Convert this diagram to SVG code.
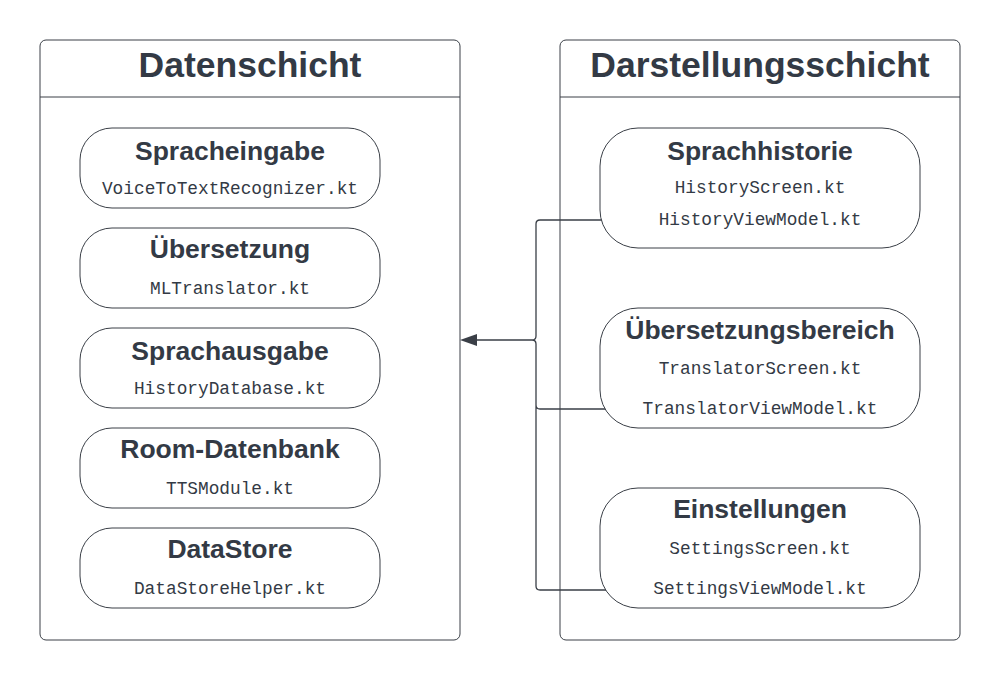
<svg xmlns="http://www.w3.org/2000/svg" width="1000" height="680" viewBox="0 0 1000 680">
<style>
.cont{fill:#fff;stroke:#3a3f47;stroke-width:1}
.node{fill:#fff;stroke:#3a3f47;stroke-width:1}
.h1{font-family:"Liberation Sans",Arial,sans-serif;font-weight:bold;font-size:35.5px;fill:#333a45;text-anchor:middle}
.h2{font-family:"Liberation Sans",Arial,sans-serif;font-weight:bold;font-size:26.5px;fill:#333a45;text-anchor:middle}
.mono{font-family:"Liberation Mono","Courier New",monospace;font-size:17.8px;fill:#333a45;text-anchor:middle}
.conn{fill:none;stroke:#3a3f47;stroke-width:1.3}
</style>
<rect width="1000" height="680" fill="#fff"/>
<g id="datenschicht">
<rect class="cont" x="40" y="40" width="420" height="600" rx="6"/>
<line class="cont" x1="40" y1="97" x2="460" y2="97"/>
<text class="h1" x="250" y="77">Datenschicht</text>
</g>
<g id="darstellungsschicht">
<rect class="cont" x="560" y="40" width="400" height="600" rx="6"/>
<line class="cont" x1="560" y1="97" x2="960" y2="97"/>
<text class="h1" x="760" y="77">Darstellungsschicht</text>
</g>
<g id="connectors">
<path class="conn" d="M610,220 L540,220 Q536,220 536,224 L536,336 Q536,340 532,340 M610,409 L540,409 Q536,409 536,405 L536,344 Q536,340 532,340 M610,590 L540,590 Q536,590 536,586 L536,405 M532,340 L476,340"/>
<path d="M460,340 L477,334 L477,346 Z" fill="#3a3f47"/>
</g>
<g id="spracheingabe">
<rect class="node" x="80" y="128" width="300" height="80" rx="32"/>
<text class="h2" x="230" y="160">Spracheingabe</text>
<text class="mono" x="230" y="194">VoiceToTextRecognizer.kt</text>
</g>
<g id="uebersetzung">
<rect class="node" x="80" y="228" width="300" height="80" rx="32"/>
<text class="h2" x="230" y="258">Übersetzung</text>
<text class="mono" x="230" y="294">MLTranslator.kt</text>
</g>
<g id="sprachausgabe">
<rect class="node" x="80" y="328" width="300" height="80" rx="32"/>
<text class="h2" x="230" y="360">Sprachausgabe</text>
<text class="mono" x="230" y="394">HistoryDatabase.kt</text>
</g>
<g id="room">
<rect class="node" x="80" y="428" width="300" height="80" rx="32"/>
<text class="h2" x="230" y="458">Room-Datenbank</text>
<text class="mono" x="230" y="494">TTSModule.kt</text>
</g>
<g id="datastore">
<rect class="node" x="80" y="528" width="300" height="80" rx="32"/>
<text class="h2" x="230" y="558">DataStore</text>
<text class="mono" x="230" y="594">DataStoreHelper.kt</text>
</g>
<g id="sprachhistorie">
<rect class="node" x="600" y="128" width="320" height="120" rx="38"/>
<text class="h2" x="760" y="160">Sprachhistorie</text>
<text class="mono" x="760" y="193">HistoryScreen.kt</text>
<text class="mono" x="760" y="225">HistoryViewModel.kt</text>
</g>
<g id="uebersetzungsbereich">
<rect class="node" x="600" y="308" width="320" height="120" rx="38"/>
<text class="h2" x="760" y="339">Übersetzungsbereich</text>
<text class="mono" x="760" y="374">TranslatorScreen.kt</text>
<text class="mono" x="760" y="414">TranslatorViewModel.kt</text>
</g>
<g id="einstellungen">
<rect class="node" x="600" y="488" width="320" height="120" rx="38"/>
<text class="h2" x="760" y="518">Einstellungen</text>
<text class="mono" x="760" y="554">SettingsScreen.kt</text>
<text class="mono" x="760" y="594">SettingsViewModel.kt</text>
</g>
</svg>
